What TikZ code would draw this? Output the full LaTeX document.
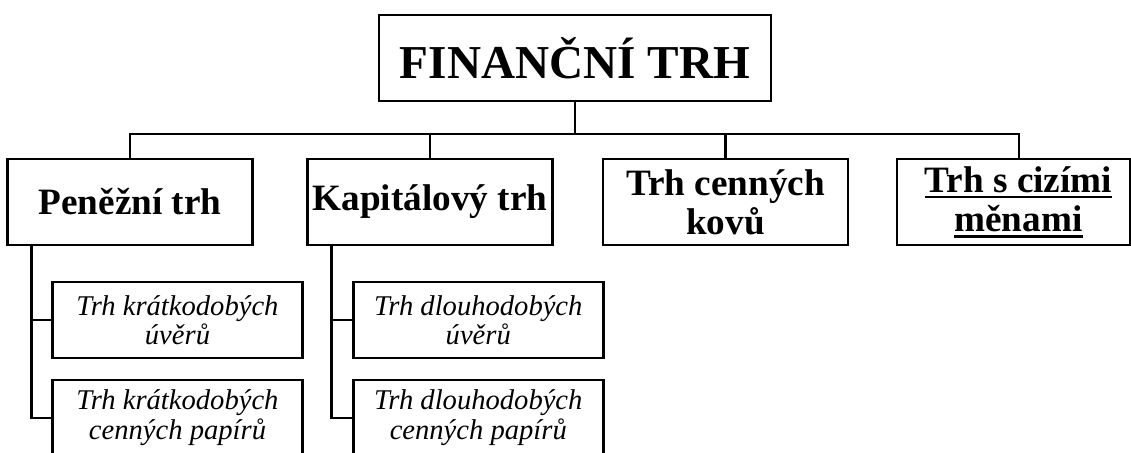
\documentclass[tikz,border=0pt]{standalone}
\usepackage{fontspec}
\setmainfont{Liberation Serif}
\usepackage{tikz}

\newcommand{\ulined}[1]{\leavevmode\setbox0\hbox{#1}\rlap{\rule[-3pt]{\wd0}{1.2pt}}\box0}

\tikzset{
    link/.style={line width=1.2pt},
    topbox/.style={draw, line width=1.2pt, minimum width=196pt, minimum height=43pt,
        font=\fontsize{23.6}{25}\selectfont\bfseries},
    marketbox/.style={draw, line width=1.2pt, minimum width=122.5pt, minimum height=43pt,
        align=center, inner sep=1pt, font=\fontsize{18.6}{19.7}\selectfont\bfseries},
    subbox/.style={draw, line width=1.2pt, minimum width=125pt, minimum height=37.75pt,
        align=center, inner sep=1pt, font=\fontsize{14.3}{14.7}\selectfont\itshape},
}

\begin{document}
\begin{tikzpicture}[x=0.5pt, y=-0.5pt]
    \useasboundingbox (0,0) rectangle (1131,452);

    \node[topbox] (trh) at (575,58) {FINANČNÍ TRH};

    \node[marketbox] (penez) at (130,202) {Peněžní trh};
    \node[marketbox] (kapital) at (430,202) {Kapitálový trh};
    \node[marketbox] (kovy) at (725.5,202) {Trh cenných\\kovů};
    \node[marketbox, minimum width=116.5pt] (meny) at (1013.5,202)
        {\hspace*{5pt}\ulined{Trh s cizími}\\\hspace*{5pt}\ulined{měnami}};

    \node[subbox] (kuvery) at (177.5,320) {Trh krátkodobých\\úvěrů};
    \node[subbox] (kpapiry) at (177.5,417.75) {Trh krátkodobých\\cenných papírů};
    \node[subbox] (duvery) at (478.3,320) {Trh dlouhodobých\\úvěrů};
    \node[subbox] (dpapiry) at (478.3,417.75) {Trh dlouhodobých\\cenných papírů};

    % top bus
    \coordinate (bus) at (575,134);
    \coordinate (busL) at (130,134);
    \coordinate (busR) at (1019,134);
    \draw[link] (trh.south) -- (bus);
    \draw[link] (penez.north) -- (busL) -- (busR) -- (busR |- meny.north);
    \draw[link] (kapital.north) -- (kapital.north |- bus);
    \draw[link] (kovy.north) -- (kovy.north |- bus);

    % side spines
    \coordinate (spineP) at ([xshift=12.5pt]penez.south west);
    \coordinate (spineK) at ([xshift=12.5pt]kapital.south west);
    \draw[link] (spineP) |- (kpapiry.west);
    \draw[link] (spineP |- kuvery.west) -- (kuvery.west);
    \draw[link] (spineK) |- (dpapiry.west);
    \draw[link] (spineK |- duvery.west) -- (duvery.west);
\end{tikzpicture}
\end{document}
